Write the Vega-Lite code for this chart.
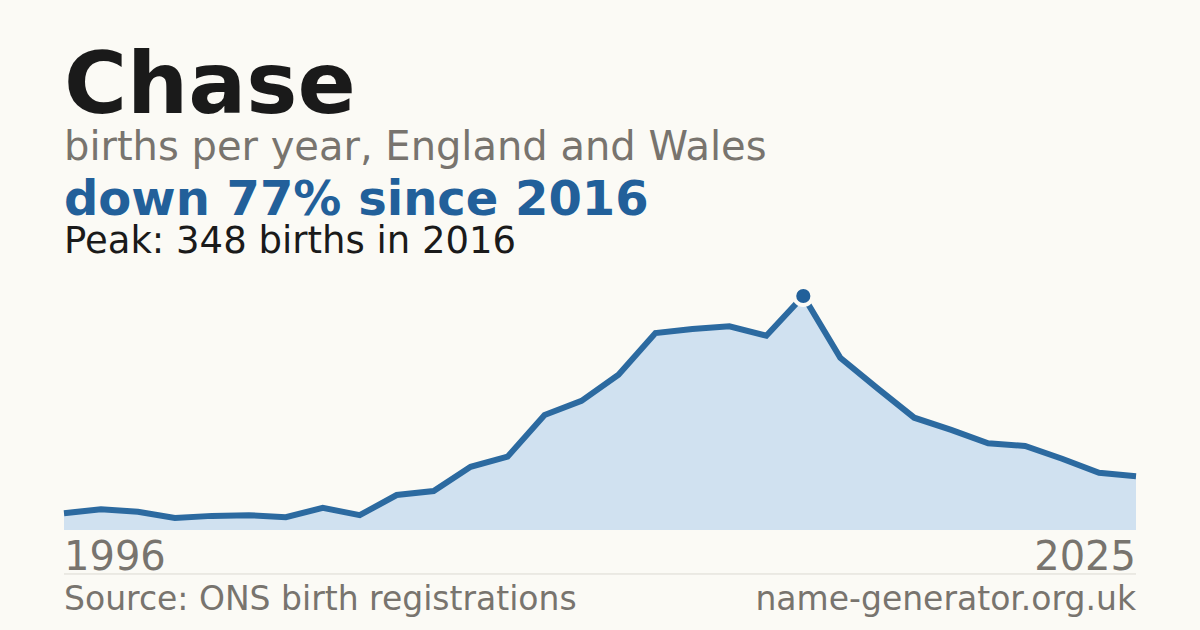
{
  "$schema": "https://vega.github.io/schema/vega-lite/v6.json",
  "width": 1200,
  "height": 630,
  "autosize": {"type": "fit", "contains": "padding"},
  "padding": 0,
  "background": "#fbfaf5",
  "config": {
    "view": {"stroke": null},
    "text": {"font": "DejaVu Sans", "baseline": "alphabetic", "align": "left"}
  },
  "data": {
    "values": [
      {"year": 1996, "births": 25},
      {"year": 1997, "births": 31},
      {"year": 1998, "births": 27},
      {"year": 1999, "births": 18},
      {"year": 2000, "births": 21},
      {"year": 2001, "births": 22},
      {"year": 2002, "births": 19},
      {"year": 2003, "births": 33},
      {"year": 2004, "births": 22},
      {"year": 2005, "births": 52},
      {"year": 2006, "births": 58},
      {"year": 2007, "births": 94},
      {"year": 2008, "births": 109},
      {"year": 2009, "births": 171},
      {"year": 2010, "births": 192},
      {"year": 2011, "births": 231},
      {"year": 2012, "births": 293},
      {"year": 2013, "births": 299},
      {"year": 2014, "births": 303},
      {"year": 2015, "births": 289},
      {"year": 2016, "births": 348},
      {"year": 2017, "births": 256},
      {"year": 2018, "births": 211},
      {"year": 2019, "births": 167},
      {"year": 2020, "births": 149},
      {"year": 2021, "births": 129},
      {"year": 2022, "births": 125},
      {"year": 2023, "births": 106},
      {"year": 2024, "births": 85},
      {"year": 2025, "births": 80}
    ]
  },
  "layer": [
    {
      "mark": {"type": "area", "color": "#d0e1f0"},
      "encoding": {
        "x": {"field": "year", "type": "quantitative", "axis": null,
              "scale": {"domain": [1994.269, 2026.731], "nice": false, "zero": false}},
        "y": {"field": "births", "type": "quantitative", "axis": null,
              "scale": {"domain": [-148.72, 788.21], "nice": false, "zero": false}},
        "y2": {"datum": 0}
      }
    },
    {
      "mark": {"type": "line", "color": "#2c6aa0", "strokeWidth": 6},
      "encoding": {
        "x": {"field": "year", "type": "quantitative"},
        "y": {"field": "births", "type": "quantitative"}
      }
    },
    {
      "transform": [{"filter": "datum.year == 2016"}],
      "mark": {"type": "point", "shape": "circle", "filled": true, "color": "#22609a", "size": 330, "stroke": "#fbfaf5", "strokeWidth": 4, "strokeOpacity": 1, "opacity": 1},
      "encoding": {
        "x": {"field": "year", "type": "quantitative"},
        "y": {"field": "births", "type": "quantitative"}
      }
    },
    {
      "data": {"values": [{}]},
      "mark": {"type": "rule", "color": "#dcd9d2", "strokeWidth": 1},
      "encoding": {"x": {"datum": 1996}, "x2": {"datum": 2025}, "y": {"datum": -65.4}}
    },
    {
      "data": {"values": [{}]},
      "mark": {"type": "text", "fontSize": 86, "fontWeight": "bold", "color": "#1a1a1a"},
      "encoding": {"x": {"datum": 1996}, "y": {"datum": 620.2}, "text": {"value": "Chase"}}
    },
    {
      "data": {"values": [{}]},
      "mark": {"type": "text", "fontSize": 40, "color": "#78746e"},
      "encoding": {"x": {"datum": 1996}, "y": {"datum": 550.3}, "text": {"value": "births per year, England and Wales"}}
    },
    {
      "data": {"values": [{}]},
      "mark": {"type": "text", "fontSize": 48, "fontWeight": "bold", "color": "#22609a"},
      "encoding": {"x": {"datum": 1996}, "y": {"datum": 468.5}, "text": {"value": "down 77% since 2016"}}
    },
    {
      "data": {"values": [{}]},
      "mark": {"type": "text", "fontSize": 37, "color": "#1a1a1a"},
      "encoding": {"x": {"datum": 1996}, "y": {"datum": 411.9}, "text": {"value": "Peak: 348 births in 2016"}}
    },
    {
      "data": {"values": [{}]},
      "mark": {"type": "text", "fontSize": 40, "color": "#78746e"},
      "encoding": {"x": {"datum": 1996}, "y": {"datum": -59.5}, "text": {"value": "1996"}}
    },
    {
      "data": {"values": [{}]},
      "mark": {"type": "text", "fontSize": 40, "color": "#78746e", "align": "right"},
      "encoding": {"x": {"datum": 2025}, "y": {"datum": -59.5}, "text": {"value": "2025"}}
    },
    {
      "data": {"values": [{}]},
      "mark": {"type": "text", "fontSize": 33, "color": "#78746e"},
      "encoding": {"x": {"datum": 1996}, "y": {"datum": -119.0}, "text": {"value": "Source: ONS birth registrations"}}
    },
    {
      "data": {"values": [{}]},
      "mark": {"type": "text", "fontSize": 33, "color": "#78746e", "align": "right"},
      "encoding": {"x": {"datum": 2025}, "y": {"datum": -119.0}, "text": {"value": "name-generator.org.uk"}}
    }
  ]
}
